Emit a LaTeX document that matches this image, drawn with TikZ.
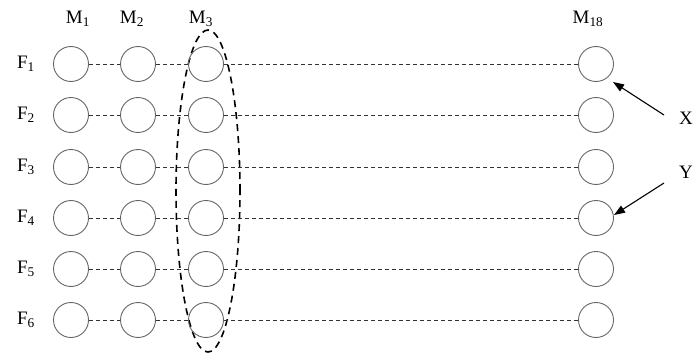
\documentclass[tikz,border=0pt]{standalone}
\usepackage{fontspec}
\setmainfont{Liberation Serif}
\usetikzlibrary{arrows.meta,shapes.geometric}
\begin{document}
\begin{tikzpicture}[x=1pt,y=-1pt,
  cell/.style={circle,draw=black!60,line width=0.9pt,minimum size=35pt,inner sep=0pt},
  link/.style={dash pattern=on 4pt off 3pt,line width=0.9pt,draw=black!80},
  lab/.style={font=\fontsize{19}{19}\selectfont,inner sep=0pt},
  grpstyle/.style={ellipse,draw=black,dash pattern=on 7pt off 5pt,line width=1.6pt,minimum width=64pt,minimum height=322pt,inner sep=0pt},
  arr/.style={-{Triangle[length=11pt,width=8pt]},line width=1.1pt}
]
\useasboundingbox (0,0) rectangle (694,356);
% grouping ellipse
\node[grpstyle] (grp) at (208,191) {};
% circles
\foreach \r/\y in {1/64,2/115,3/167,4/218,5/269,6/320}{
  \node[cell] (c\r-1) at (71,\y) {};
  \node[cell] (c\r-2) at (138,\y) {};
  \node[cell] (c\r-3) at (206,\y) {};
  \node[cell] (c\r-4) at (596,\y) {};
  \node[lab] (f\r) at (26,\y) {F\textsubscript{\r}};
  \draw[link] (c\r-1) -- (c\r-2);
  \draw[link] (c\r-2) -- (c\r-3);
  \draw[link] (c\r-3) -- (c\r-4);
}
% column labels
\node[lab] (m1) at (78,19) {M\textsubscript{1}};
\node[lab] (m2) at (132,19) {M\textsubscript{2}};
\node[lab] (m3) at (201,19) {M\textsubscript{3}};
\node[lab] (m18) at (588,19) {M\textsubscript{18}};
% X and Y
\node[lab] (xl) at (686,118) {X};
\node[lab] (yl) at (686,172) {Y};
\coordinate (xs) at (664,115);
\coordinate (xt) at (613,82);
\coordinate (ys) at (664,183);
\coordinate (yt) at (614,215);
\draw[arr] (xs) -- (xt);
\draw[arr] (ys) -- (yt);
\end{tikzpicture}
\end{document}
